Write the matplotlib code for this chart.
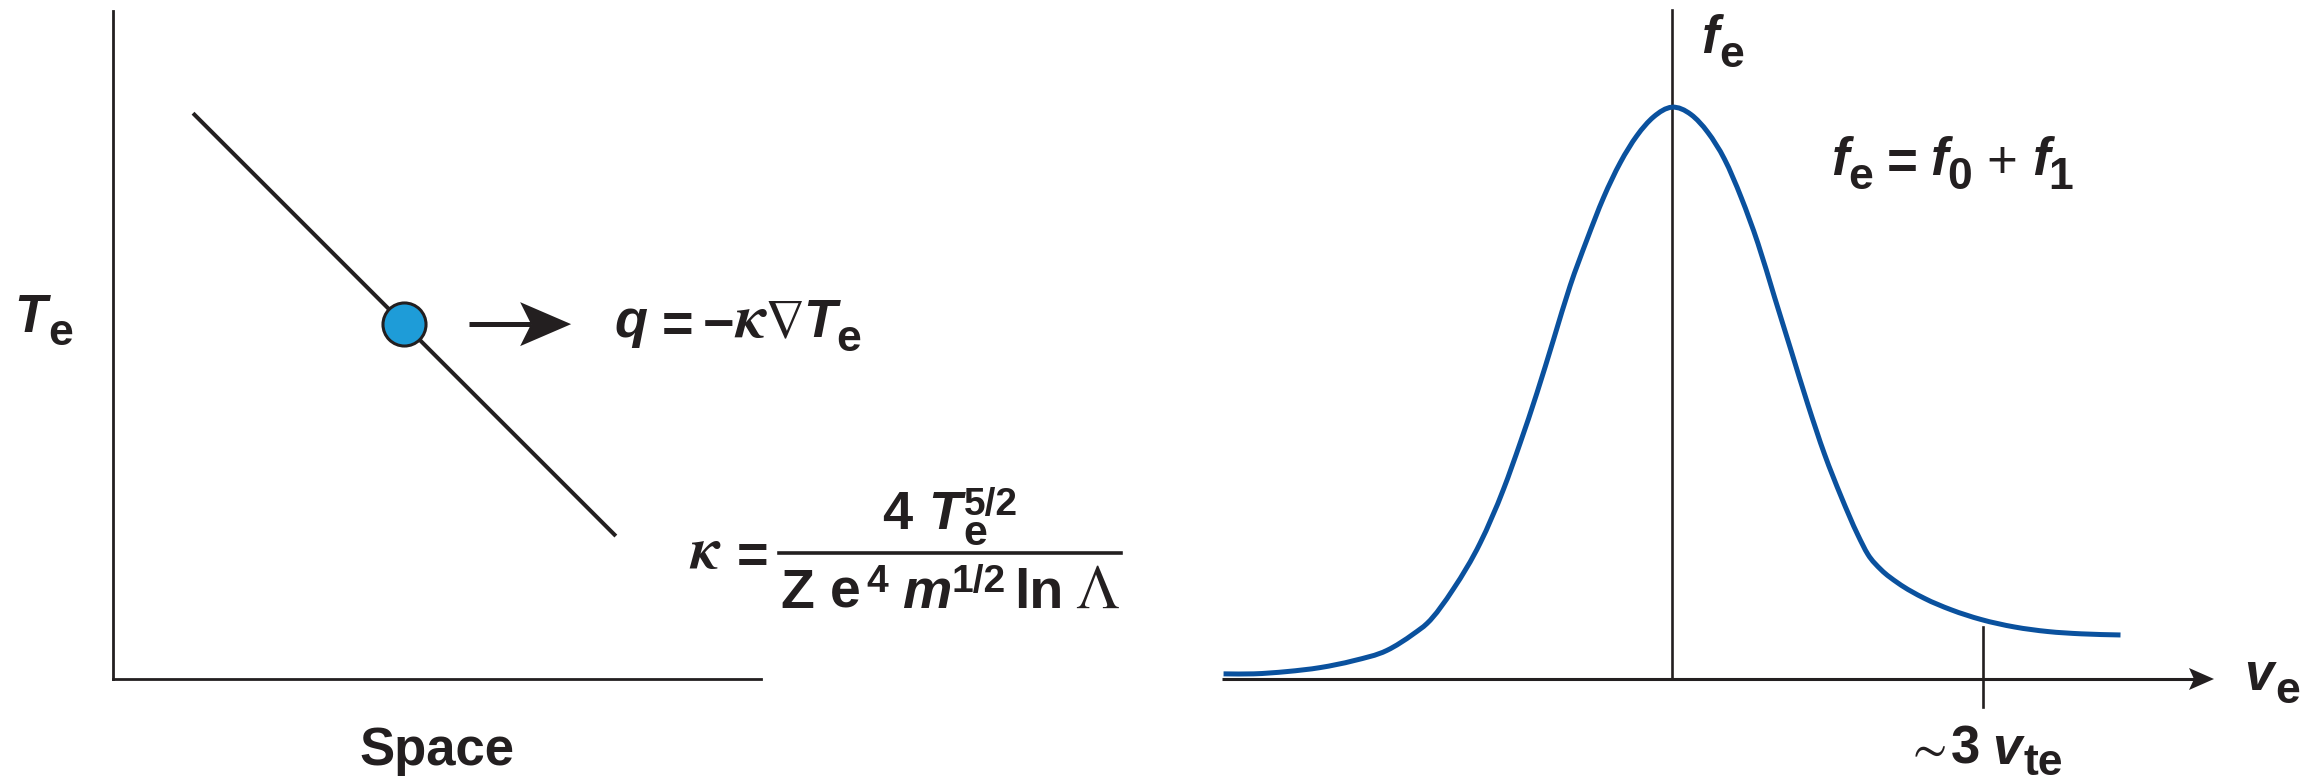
import matplotlib
matplotlib.use("Agg")
import matplotlib.pyplot as plt
import numpy as np
from matplotlib.lines import Line2D
from matplotlib.patches import Polygon, PathPatch
from matplotlib.path import Path
from matplotlib.textpath import TextPath
from matplotlib.font_manager import FontProperties
from matplotlib.transforms import IdentityTransform

# ---------------- data ----------------
# Left panel: temperature falling linearly across space
space = [0.1235, 0.776]
temperature = [0.847, 0.214]
particle_space = 0.449

# Right panel: electron distribution f_e(v) (peak normalised to 1)
velocity = [-4.325, -4.035, -3.714, -3.392, -3.071, -2.749, -2.492, -2.363,
            -2.106, -1.849, -1.624, -1.463, -1.302, -1.141, -0.981, -0.820,
            -0.659, -0.498, -0.338, -0.177, 0.0, 0.186, 0.347, 0.508, 0.669,
            0.830, 0.990, 1.151, 1.312, 1.473, 1.633, 1.794, 1.891, 2.019,
            2.180, 2.437, 2.695, 2.984, 3.305, 3.627, 3.949, 4.328]
f_e = [0.009, 0.009, 0.013, 0.020, 0.032, 0.050, 0.079, 0.097,
       0.158, 0.238, 0.332, 0.413, 0.500, 0.594, 0.688, 0.768,
       0.842, 0.903, 0.950, 0.983, 1.000, 0.987, 0.956, 0.909, 0.842,
       0.762, 0.668, 0.574, 0.480, 0.393, 0.319, 0.252, 0.218, 0.191,
       0.168, 0.141, 0.121, 0.104, 0.091, 0.083, 0.079, 0.077]
thermal_tick = 3.0          # ~3 v_te

V_MIN, V_MAX, F_MAX = -4.34, 5.23, 1.17

# ---------------- style ----------------
W, H = 2304, 782
PX = 100 / 72               # pixels per point at 100 dpi
INK = "#231f20"
BLUE = "#0a519e"
DOT = "#1e9cd8"
STY = {
    "b": dict(family="Liberation Sans", weight="bold"),
    "bi": dict(family="Liberation Sans", weight="bold", style="italic"),
    "r": dict(family="Liberation Sans"),
    "gbi": dict(family="STIXGeneral", weight="bold", style="italic"),
    "g": dict(family="STIXGeneral"),
}

fig = plt.figure(figsize=(W / 100, H / 100), dpi=100)
fig.patch.set_facecolor("white")


def ink_extent(s, size, style):
    """Horizontal ink extent of a string relative to its pen origin, in px."""
    tp = TextPath((0, 0), s, size=size, prop=FontProperties(size=size, **STY[style]))
    ext = tp.get_extents()
    return ext.x0 * PX, ext.x1 * PX


def run_text(x, y, runs, ha="left"):
    """Typeset a row of text pieces ink-to-ink.
    x, y: pixels from the top-left corner (x = left ink edge or centre, y = baseline).
    Each run: (text, size, style[, rise_px[, advance]]) or a number = ink gap in px."""
    items = []
    cursor = 0.0
    stack_right = None
    for run in runs:
        if isinstance(run, (int, float)):
            cursor += run
            continue
        s, size, style = run[:3]
        rise = run[3] if len(run) > 3 else 0
        advance = run[4] if len(run) > 4 else True
        x0i, x1i = ink_extent(s, size, style)
        items.append((s, size, style, cursor - x0i, rise))
        right = cursor + (x1i - x0i)
        stack_right = right if stack_right is None else max(stack_right, right)
        if advance:
            cursor = stack_right
            stack_right = None
    total = cursor if stack_right is None else max(cursor, stack_right)
    off = x - total / 2 if ha == "center" else x
    for s, size, style, pen, rise in items:
        fig.text((off + pen) / W, 1 - (y - rise) / H, s, fontsize=size,
                 color=INK, va="baseline", ha="left", **STY[style])


def arrow(ax, x0, x1, y, lw, head_len, head_half, notch):
    (px0, py), (px1, _) = ax.transData.transform([(x0, y), (x1, y)])
    base = px1 - head_len
    fig.add_artist(Line2D([px0, base + notch], [py, py], lw=lw, color=INK,
                          solid_capstyle="butt", transform=IdentityTransform()))
    fig.add_artist(Polygon([(px1, py), (base, py + head_half), (base + notch, py),
                            (base, py - head_half)], closed=True, fc=INK,
                           ec="none", transform=IdentityTransform()))


def smooth_path(xs, ys):
    """Cubic Bezier path through every point, tangents from neighbouring slopes."""
    x = np.asarray(xs, float)
    y = np.asarray(ys, float)
    h = np.diff(x)
    d = np.diff(y) / h
    m = np.empty_like(y)
    m[0], m[-1] = d[0], d[-1]
    m[1:-1] = (h[1:] * d[:-1] + h[:-1] * d[1:]) / (h[:-1] + h[1:])
    verts = [(x[0], y[0])]
    codes = [Path.MOVETO]
    for i in range(len(x) - 1):
        verts += [(x[i] + h[i] / 3, y[i] + m[i] * h[i] / 3),
                  (x[i + 1] - h[i] / 3, y[i + 1] - m[i + 1] * h[i] / 3),
                  (x[i + 1], y[i + 1])]
        codes += [Path.CURVE4] * 3
    return Path(verts, codes)


# ---------------- left panel: temperature gradient ----------------
ax1 = fig.add_axes([113 / W, 1 - 679 / H, (761 - 113) / W, (679 - 11) / H])
ax1.set_xlim(0, 1)
ax1.set_ylim(0, 1)
for side in ("top", "right"):
    ax1.spines[side].set_visible(False)
for side in ("left", "bottom"):
    ax1.spines[side].set_linewidth(2.0)
    ax1.spines[side].set_color(INK)
ax1.set_xticks([])
ax1.set_yticks([])
ax1.patch.set_alpha(0)

ax1.plot(space, temperature, color=INK, lw=2.9, solid_capstyle="butt")
particle_temp = np.interp(particle_space, space, temperature)
ax1.plot([particle_space], [particle_temp], "o", ms=31, mfc=DOT, mec=INK,
         mew=2.2, zorder=3)
arrow(ax1, particle_space + 0.100, particle_space + 0.258, particle_temp,
      lw=3.6, head_len=51, head_half=22, notch=11)

# ---------------- right panel: distribution function ----------------
ax2 = fig.add_axes([1222 / W, 1 - 679 / H, (2214 - 1222) / W, (679 - 10) / H])
ax2.set_xlim(V_MIN, V_MAX)
ax2.set_ylim(0, F_MAX)
ax2.axis("off")

ax2.add_patch(PathPatch(smooth_path(velocity, f_e), fc="none", ec=BLUE,
                        lw=3.6, capstyle="butt", joinstyle="round",
                        clip_on=False, zorder=3))
ax2.plot([0, 0], [0, F_MAX], color=INK, lw=1.9, clip_on=False)
ax2.plot([thermal_tick, thermal_tick], [-0.049, 0.091], color=INK, lw=1.9,
         clip_on=False)
arrow(ax2, V_MIN, V_MAX, 0.0, lw=2.2, head_len=25, head_half=11, notch=5)

# ---------------- labels ----------------
run_text(18, 332, [("T", 38, "bi"), 0, ("e", 32, "b", -13)])

run_text(616, 337, [("q", 39, "bi"), 17, ("=", 39, "b", -4), 14,
                    ("\u2212", 39, "b", -4), 2, ("\u03ba", 44, "gbi"), 2,
                    ("\u2207", 40, "g"), 5, ("T", 39, "bi"), -2,
                    ("e", 32, "b", -14)])

run_text(689, 568, [("\u03ba", 42, "gbi"), 19, ("=", 39, "b", -4)])
run_text(950, 529, [("4", 39, "b"), 20, ("T", 39, "bi"), 0,
                    ("e", 31, "b", -16, False), ("5/2", 28, "b", 14)],
         ha="center")
fig.add_artist(Line2D([779 / W, 1121 / W], [1 - 553 / H, 1 - 553 / H],
                      lw=2.6, color=INK))
run_text(950, 608, [("Z", 40, "b"), 19, ("e", 40, "b"), 8,
                    ("4", 28, "b", 16), 15, ("m", 40, "bi"), 5,
                    ("1/2", 28, "b", 16), 14, ("ln", 40, "b"), 16,
                    ("\u039b", 45, "g")], ha="center")

run_text(437, 765, [("Space", 38, "b")], ha="center")

run_text(1703, 53, [("f", 38, "bi"), -2, ("e", 32, "b", -14)])
run_text(1833, 175, [("f", 38, "bi"), -3, ("e", 32, "b", -14), 17,
                     ("=", 38, "b", -3), 17, ("f", 38, "bi"), -3,
                     ("0", 32, "b", -14), 19, ("+", 38, "r", -3), 19,
                     ("f", 38, "bi"), -3, ("1", 32, "b", -14)])
run_text(2247, 690, [("v", 38, "bi"), 1, ("e", 32, "b", -13)])
run_text(1915, 764, [("\u223c", 36, "g", 0), 8, ("3", 38, "b"), 16,
                     ("v", 38, "bi"), 0, ("te", 32, "b", -11)])

fig.savefig("out.png", dpi=100, facecolor="white")
